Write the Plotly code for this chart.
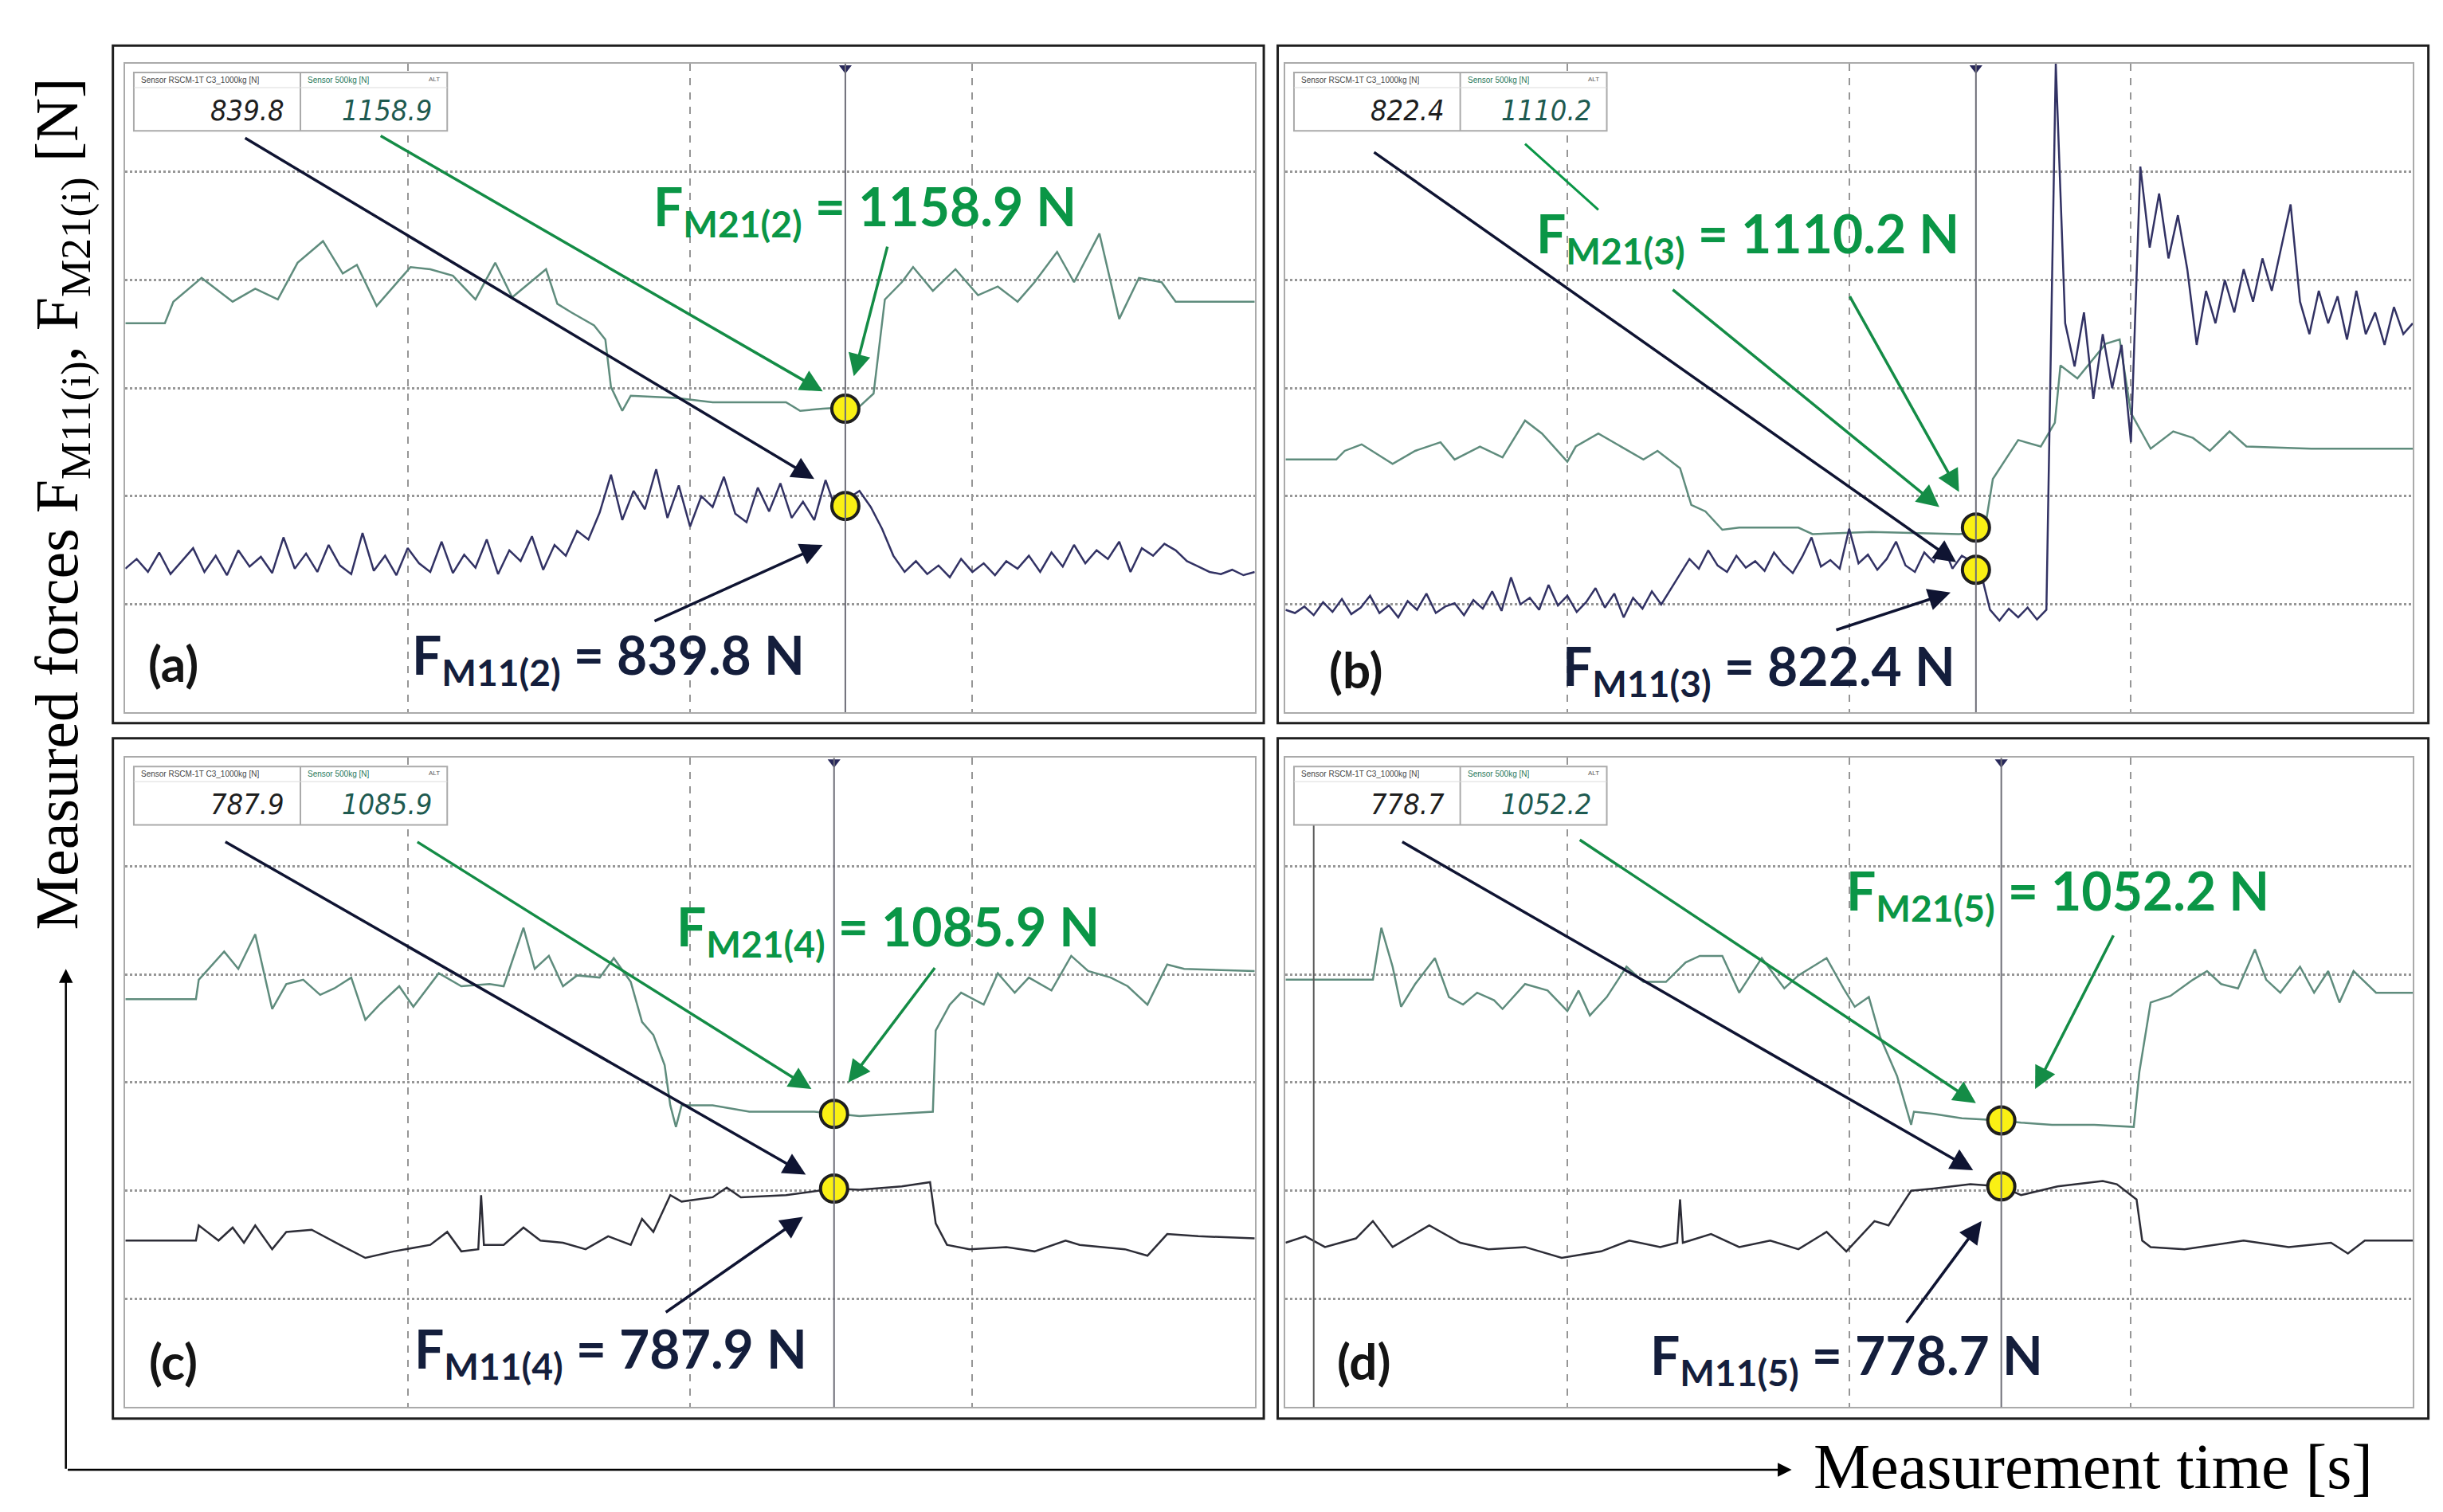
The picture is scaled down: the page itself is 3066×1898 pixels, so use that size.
import numpy as np
import plotly.graph_objects as go
from plotly.subplots import make_subplots

# values are in scope grid divisions (x: 0-4, y: 0-6)
GREEN_A_T = [0, 0.14, 0.17, 0.27, 0.38, 0.46, 0.54, 0.61, 0.70, 0.77, 0.82, 0.89, 1.01, 1.08, 1.16, 1.24, 1.31, 1.37, 1.49, 1.53, 1.58, 1.66, 1.70, 1.72, 1.76, 1.79, 1.95, 2.08, 2.34, 2.39, 2.47, 2.60, 2.65, 2.69, 2.75, 2.79, 2.86, 2.94, 3.02, 3.09, 3.16, 3.22, 3.30, 3.36, 3.45, 3.52, 3.59, 3.67, 3.72, 4.0]
GREEN_A_V = [3.60, 3.60, 3.80, 4.02, 3.80, 3.92, 3.82, 4.16, 4.36, 4.06, 4.14, 3.76, 4.12, 4.10, 4.04, 3.82, 4.16, 3.84, 4.10, 3.78, 3.70, 3.58, 3.45, 3.01, 2.79, 2.93, 2.91, 2.87, 2.87, 2.79, 2.81, 2.83, 2.95, 3.82, 3.98, 4.12, 3.90, 4.10, 3.86, 3.94, 3.80, 3.98, 4.26, 3.98, 4.43, 3.64, 4.02, 3.98, 3.80, 3.80]
NAVY_A_V = [1.33, 1.42, 1.30, 1.48, 1.28, 1.40, 1.52, 1.30, 1.45, 1.27, 1.50, 1.35, 1.44, 1.29, 1.62, 1.33, 1.47, 1.30, 1.55, 1.36, 1.28, 1.66, 1.31, 1.45, 1.27, 1.52, 1.38, 1.30, 1.58, 1.29, 1.46, 1.34, 1.60, 1.28, 1.50, 1.40, 1.63, 1.32, 1.55, 1.45, 1.68, 1.60,
            1.85, 2.20, 1.78, 2.05, 1.88, 2.25, 1.80, 2.10, 1.72, 2.00, 1.90, 2.18, 1.84, 1.76, 2.08, 1.86, 2.12, 1.80, 1.95, 1.78, 2.15, 1.85, 1.98, 2.05, 1.90,
            1.70, 1.45, 1.30, 1.40, 1.28, 1.36, 1.25, 1.42, 1.30, 1.38, 1.27, 1.40, 1.33, 1.45, 1.30, 1.48, 1.35, 1.55, 1.38, 1.50, 1.42, 1.58, 1.30, 1.52, 1.45, 1.56, 1.50, 1.40, 1.35, 1.30, 1.28, 1.32, 1.27, 1.30]

GREEN_B_T = [0, 0.18, 0.21, 0.27, 0.38, 0.46, 0.55, 0.60, 0.69, 0.77, 0.85, 0.91, 1.0, 1.03, 1.11, 1.19, 1.27, 1.32, 1.40, 1.44, 1.49, 1.55, 1.61, 1.82, 1.87, 2.08, 2.39, 2.48, 2.51, 2.60, 2.68, 2.73, 2.75, 2.81, 2.86, 2.91, 2.96, 3.0, 3.07, 3.15, 3.22, 3.28, 3.35, 3.41, 3.64, 4.0]
GREEN_B_V = [2.34, 2.34, 2.42, 2.48, 2.30, 2.42, 2.50, 2.34, 2.46, 2.36, 2.70, 2.58, 2.32, 2.46, 2.58, 2.46, 2.34, 2.42, 2.26, 1.92, 1.86, 1.69, 1.71, 1.71, 1.65, 1.67, 1.65, 1.67, 2.16, 2.52, 2.46, 2.68, 3.21, 3.09, 3.25, 3.41, 3.45, 2.77, 2.44, 2.60, 2.54, 2.42, 2.60, 2.46, 2.44, 2.44]
NAVY_B_V = [0.95, 0.92, 0.98, 0.90, 1.02, 0.93, 1.05, 0.91, 0.97, 1.08, 0.92, 0.99, 0.88, 1.03, 0.95, 1.10, 0.92, 0.98, 1.01, 0.90, 1.04, 0.96, 1.12, 0.94, 1.25, 1.00, 1.06, 0.95, 1.18, 0.99, 1.08, 0.93, 1.02, 1.15, 0.97, 1.10, 0.88, 1.06, 0.96, 1.12, 1.00, 1.14,
            1.28, 1.42, 1.33, 1.50, 1.36, 1.30, 1.45, 1.34, 1.40, 1.31, 1.48, 1.37, 1.29, 1.44, 1.62, 1.35, 1.41, 1.33, 1.70, 1.38, 1.46, 1.32, 1.42, 1.58, 1.36, 1.30, 1.48, 1.39, 1.55, 1.33, 1.45,
            1.40, 1.30, 0.95, 0.85, 0.96, 0.88, 0.97, 0.86, 0.95, 6.0, 3.6, 3.2, 3.7, 2.9, 3.5, 3.0, 3.4, 2.5, 5.05, 4.3, 4.8, 4.2, 4.6, 4.1, 3.4, 3.9, 3.6, 4.0, 3.7, 4.1, 3.8, 4.2, 3.9, 4.3, 4.7, 3.8, 3.5, 3.9, 3.6, 3.85, 3.45, 3.9, 3.5, 3.7, 3.4, 3.75, 3.5, 3.6]

GREEN_C_T = [0, 0.25, 0.26, 0.35, 0.40, 0.46, 0.52, 0.57, 0.63, 0.69, 0.74, 0.80, 0.85, 0.90, 0.97, 1.02, 1.11, 1.19, 1.29, 1.34, 1.41, 1.45, 1.50, 1.55, 1.60, 1.68, 1.73, 1.79, 1.83, 1.87, 1.91, 1.93, 1.95, 1.97, 2.08, 2.21, 2.44, 2.60, 2.86, 2.87, 2.92, 2.96, 3.04, 3.09, 3.15, 3.20, 3.28, 3.35, 3.41, 3.49, 3.55, 3.62, 3.69, 3.75, 4.0]
GREEN_C_V = [3.77, 3.77, 3.95, 4.21, 4.05, 4.37, 3.68, 3.91, 3.95, 3.81, 3.87, 3.97, 3.58, 3.72, 3.89, 3.70, 4.01, 3.89, 3.91, 3.89, 4.43, 4.05, 4.17, 3.89, 3.99, 3.97, 4.15, 3.93, 3.56, 3.44, 3.16, 2.79, 2.59, 2.79, 2.79, 2.73, 2.73, 2.69, 2.73, 3.48, 3.72, 3.83, 3.72, 4.01, 3.83, 3.97, 3.85, 4.17, 4.03, 3.97, 3.89, 3.72, 4.09, 4.05, 4.03]
NAVY_C_T = [0, 0.25, 0.26, 0.33, 0.38, 0.42, 0.46, 0.52, 0.57, 0.66, 0.76, 0.85, 0.95, 1.08, 1.14, 1.19, 1.25, 1.26, 1.27, 1.34, 1.41, 1.47, 1.55, 1.63, 1.71, 1.79, 1.83, 1.87, 1.93, 1.97, 2.08, 2.13, 2.18, 2.34, 2.51, 2.60, 2.75, 2.85, 2.87, 2.91, 2.99, 3.12, 3.22, 3.33, 3.38, 3.54, 3.62, 3.69, 3.80, 4.0]
NAVY_C_V = [1.54, 1.54, 1.68, 1.54, 1.66, 1.52, 1.68, 1.46, 1.62, 1.64, 1.50, 1.38, 1.44, 1.50, 1.62, 1.44, 1.46, 1.96, 1.50, 1.50, 1.66, 1.54, 1.52, 1.46, 1.58, 1.50, 1.74, 1.62, 1.96, 1.90, 1.94, 2.03, 1.94, 1.96, 2.02, 2.01, 2.04, 2.08, 1.70, 1.50, 1.46, 1.48, 1.44, 1.54, 1.50, 1.46, 1.40, 1.60, 1.58, 1.56]

GREEN_D_T = [0, 0.31, 0.34, 0.38, 0.41, 0.46, 0.53, 0.58, 0.63, 0.68, 0.74, 0.77, 0.85, 0.93, 1.0, 1.04, 1.08, 1.14, 1.21, 1.27, 1.35, 1.42, 1.47, 1.55, 1.61, 1.69, 1.77, 1.82, 1.92, 1.98, 2.02, 2.07, 2.11, 2.17, 2.22, 2.23, 2.30, 2.40, 2.54, 2.61, 2.72, 2.87, 3.01, 3.03, 3.07, 3.14, 3.22, 3.27, 3.32, 3.38, 3.44, 3.48, 3.53, 3.60, 3.65, 3.70, 3.74, 3.79, 3.87, 4.0]
GREEN_D_V = [3.95, 3.95, 4.43, 4.07, 3.70, 3.91, 4.15, 3.79, 3.72, 3.83, 3.76, 3.68, 3.91, 3.85, 3.66, 3.85, 3.62, 3.79, 4.07, 3.93, 3.93, 4.11, 4.17, 4.17, 3.83, 4.15, 3.87, 3.99, 4.15, 3.87, 3.70, 3.79, 3.42, 3.06, 2.61, 2.73, 2.71, 2.67, 2.65, 2.63, 2.61, 2.61, 2.59, 3.10, 3.74, 3.80, 3.95, 4.03, 3.91, 3.87, 4.23, 3.95, 3.83, 4.07, 3.83, 4.03, 3.74, 4.03, 3.83, 3.83]
NAVY_D_T = [0, 0.07, 0.14, 0.25, 0.31, 0.38, 0.51, 0.62, 0.72, 0.85, 0.98, 1.12, 1.22, 1.33, 1.39, 1.40, 1.41, 1.51, 1.61, 1.72, 1.82, 1.92, 1.99, 2.09, 2.14, 2.22, 2.30, 2.43, 2.54, 2.61, 2.74, 2.90, 2.95, 3.02, 3.04, 3.07, 3.19, 3.29, 3.40, 3.56, 3.71, 3.77, 3.83, 4.0]
NAVY_D_V = [1.52, 1.58, 1.48, 1.56, 1.72, 1.48, 1.68, 1.52, 1.46, 1.48, 1.38, 1.44, 1.54, 1.48, 1.52, 1.92, 1.52, 1.60, 1.48, 1.54, 1.46, 1.62, 1.44, 1.72, 1.68, 2.00, 2.02, 2.06, 2.04, 1.96, 2.04, 2.09, 2.06, 1.92, 1.54, 1.48, 1.46, 1.50, 1.54, 1.48, 1.52, 1.42, 1.54, 1.54]

PANEL_LABELS = ["(a)", "(b)", "(c)", "(d)"]
CURSOR_T = [2.55, 2.45, 2.51, 2.54]
POINT_GREEN = [2.81, 1.71, 2.71, 2.65]
POINT_NAVY = [1.91, 1.32, 2.02, 2.04]
READ_M11 = ["839.8", "822.4", "787.9", "778.7"]
READ_M21 = ["1158.9", "1110.2", "1085.9", "1052.2"]
F_M11 = ["839.8", "822.4", "787.9", "778.7"]
F_M21 = ["1158.9", "1110.2", "1085.9", "1052.2"]
IDX = ["2", "3", "4", "5"]

GREEN_TRACE = "rgb(95,140,125)"
NAVY_A = "rgb(50,50,100)"
DARK_TRACE = "rgb(45,45,55)"
GREEN_TXT = "rgb(10,150,70)"
NAVY_TXT = "rgb(20,30,60)"
GRID = "rgb(150,150,150)"

fig = make_subplots(rows=2, cols=2)

# plot areas and outer frames in paper fractions
DOMAINS = [
    ([0.0487, 0.511], [0.533, 0.962]),
    ([0.5236, 0.985], [0.533, 0.962]),
    ([0.0487, 0.511], [0.0735, 0.503]),
    ([0.5236, 0.985], [0.0735, 0.503]),
]
FRAMES = [
    (0.0436, 0.5147, 0.526, 0.974),
    (0.5204, 0.9914, 0.526, 0.974),
    (0.0436, 0.5147, 0.066, 0.516),
    (0.5204, 0.9914, 0.066, 0.516),
]

series = [
    (GREEN_A_T, GREEN_A_V, list(np.linspace(0, 4, len(NAVY_A_V))), NAVY_A_V, NAVY_A),
    (GREEN_B_T, GREEN_B_V, list(np.linspace(0, 4, len(NAVY_B_V))), NAVY_B_V, NAVY_A),
    (GREEN_C_T, GREEN_C_V, NAVY_C_T, NAVY_C_V, DARK_TRACE),
    (GREEN_D_T, GREEN_D_V, NAVY_D_T, NAVY_D_V, DARK_TRACE),
]

# arrows: (from, to) in grid units
BLACK_ARROWS = [((0.42, 5.32), (2.44, 2.16)), ((0.31, 5.19), (2.38, 1.39)),
                ((0.35, 5.23), (2.41, 2.15)), ((0.41, 5.23), (2.44, 2.19))]
GREEN_ARROWS = [
    [((0.90, 5.34), (2.47, 2.97)), ((2.70, 4.32), (2.58, 3.11))],
    [((1.37, 3.92), (2.32, 1.90)), ((2.0, 3.86), (2.39, 2.04))],
    [((1.03, 5.23), (2.43, 2.94)), ((2.87, 4.07), (2.56, 3.0))],
    [((1.04, 5.25), (2.45, 2.81)), ((2.94, 4.37), (2.66, 2.94))],
]
NAVY_ARROWS = [((1.87, 0.84), (2.47, 1.55)), ((1.95, 0.76), (2.36, 1.11)),
               ((1.91, 0.87), (2.40, 1.76)), ((2.20, 0.77), (2.47, 1.72))]
GREEN_TXT_POS = [(2.62, 4.65), (1.64, 4.40), (2.70, 4.41), (2.74, 4.74)]
NAVY_TXT_POS = [(1.71, 0.50), (1.68, 0.40), (1.72, 0.51), (1.99, 0.45)]
LABEL_POS = [(0.17, 0.46), (0.25, 0.40), (0.17, 0.43), (0.28, 0.43)]

shapes = []
for i in range(4):
    r, c = i // 2 + 1, i % 2 + 1
    xa = "x" if i == 0 else f"x{i + 1}"
    ya = "y" if i == 0 else f"y{i + 1}"
    gt, gv, nt, nv, ncol = series[i]
    fig.add_trace(go.Scatter(x=gt, y=gv, mode="lines", line=dict(color=GREEN_TRACE, width=2.5)), row=r, col=c)
    fig.add_trace(go.Scatter(x=nt, y=nv, mode="lines", line=dict(color=ncol, width=2.5)), row=r, col=c)
    # cursor
    shapes.append(dict(type="line", xref=xa, yref=ya, x0=CURSOR_T[i], x1=CURSOR_T[i], y0=0, y1=6,
                       line=dict(color="rgb(110,110,120)", width=2)))
    fig.add_trace(go.Scatter(x=[CURSOR_T[i]], y=[5.96], mode="markers",
                             marker=dict(symbol="triangle-down", size=14, color="rgb(40,40,90)")), row=r, col=c)
    fig.add_trace(go.Scatter(x=[CURSOR_T[i], CURSOR_T[i]], y=[POINT_GREEN[i], POINT_NAVY[i]], mode="markers",
                             marker=dict(size=34, color="rgb(250,240,20)", line=dict(color="rgb(30,30,30)", width=4))),
                  row=r, col=c)
    if i == 3:
        shapes.append(dict(type="line", xref=xa, yref=ya, x0=0.1, x1=0.1, y0=0, y1=5.38,
                           line=dict(color="rgb(90,90,90)", width=2)))
    if i == 1:
        shapes.append(dict(type="line", xref=xa, yref=ya, x0=0.85, x1=1.11, y0=5.26, y1=4.65,
                           line=dict(color=GREEN_TXT, width=3)))

    # readout box
    shapes.append(dict(type="rect", xref=xa, yref=ya, x0=0.03, x1=1.14, y0=5.38, y1=5.92,
                       line=dict(color="rgb(170,170,170)", width=2), fillcolor="white"))
    shapes.append(dict(type="line", xref=xa, yref=ya, x0=0.62, x1=0.62, y0=5.38, y1=5.92,
                       line=dict(color="rgb(170,170,170)", width=2)))
    shapes.append(dict(type="line", xref=xa, yref=ya, x0=0.03, x1=1.14, y0=5.78, y1=5.78,
                       line=dict(color="rgb(220,220,220)", width=1)))
    fig.add_annotation(x=0.05, y=5.85, xref=xa, yref=ya, text="Sensor RSCM-1T C3_1000kg [N]", showarrow=False,
                       xanchor="left", font=dict(size=10, color="rgb(70,70,70)", family="Liberation Sans"))
    fig.add_annotation(x=0.64, y=5.85, xref=xa, yref=ya, text="Sensor 500kg [N]", showarrow=False,
                       xanchor="left", font=dict(size=10, color="rgb(40,120,90)", family="Liberation Sans"))
    fig.add_annotation(x=1.12, y=5.86, xref=xa, yref=ya, text="ALT", showarrow=False,
                       xanchor="right", font=dict(size=8, color="rgb(90,90,90)", family="Liberation Sans"))
    fig.add_annotation(x=0.57, y=5.57, xref=xa, yref=ya, text=f"<i>{READ_M11[i]}</i>", showarrow=False,
                       xanchor="right", font=dict(size=36, color="rgb(30,30,30)", family="DejaVu Sans Condensed"))
    fig.add_annotation(x=1.09, y=5.57, xref=xa, yref=ya, text=f"<i>{READ_M21[i]}</i>", showarrow=False,
                       xanchor="right", font=dict(size=36, color="rgb(30,90,80)", family="DejaVu Sans Condensed"))

    # arrows
    (x0, y0), (x1, y1) = BLACK_ARROWS[i]
    fig.add_annotation(x=x1, y=y1, ax=x0, ay=y0, xref=xa, yref=ya, axref=xa, ayref=ya, text="",
                       showarrow=True, arrowhead=2, arrowsize=1.6, arrowwidth=3.5, arrowcolor="rgb(15,20,50)")
    for (x0, y0), (x1, y1) in GREEN_ARROWS[i]:
        fig.add_annotation(x=x1, y=y1, ax=x0, ay=y0, xref=xa, yref=ya, axref=xa, ayref=ya, text="",
                           showarrow=True, arrowhead=2, arrowsize=1.6, arrowwidth=3.5, arrowcolor="rgb(20,140,70)")
    (x0, y0), (x1, y1) = NAVY_ARROWS[i]
    fig.add_annotation(x=x1, y=y1, ax=x0, ay=y0, xref=xa, yref=ya, axref=xa, ayref=ya, text="",
                       showarrow=True, arrowhead=2, arrowsize=1.6, arrowwidth=3.5, arrowcolor="rgb(15,20,50)")

    # labels
    gx, gy = GREEN_TXT_POS[i]
    fig.add_annotation(x=gx, y=gy, xref=xa, yref=ya, showarrow=False,
                       text=f"<b>F<sub>M21({IDX[i]})</sub> = {F_M21[i]} N</b>",
                       font=dict(size=66, color=GREEN_TXT, family="Lato"))
    nx, ny = NAVY_TXT_POS[i]
    fig.add_annotation(x=nx, y=ny, xref=xa, yref=ya, showarrow=False,
                       text=f"<b>F<sub>M11({IDX[i]})</sub> = {F_M11[i]} N</b>",
                       font=dict(size=66, color=NAVY_TXT, family="Lato"))
    lx, ly = LABEL_POS[i]
    fig.add_annotation(x=lx, y=ly, xref=xa, yref=ya, showarrow=False, text=f"<b>{PANEL_LABELS[i]}</b>",
                       font=dict(size=62, color="rgb(20,20,20)", family="Lato"))

    fig.update_xaxes(row=r, col=c, range=[0, 4], domain=DOMAINS[i][0], tickvals=[1, 2, 3], showticklabels=False,
                     ticks="", showgrid=True, gridcolor=GRID, griddash="dash", gridwidth=2, zeroline=False,
                     showline=True, linecolor="rgb(170,170,170)", linewidth=2, mirror=True)
    fig.update_yaxes(row=r, col=c, range=[0, 6], domain=DOMAINS[i][1], tickvals=[1, 2, 3, 4, 5],
                     showticklabels=False, ticks="", showgrid=True, gridcolor=GRID, griddash="dot", gridwidth=3,
                     zeroline=False, showline=True, linecolor="rgb(170,170,170)", linewidth=2, mirror=True)

    fx0, fx1, fy0, fy1 = FRAMES[i]
    shapes.append(dict(type="rect", xref="paper", yref="paper", x0=fx0, x1=fx1, y0=fy0, y1=fy1,
                       line=dict(color="rgb(30,30,30)", width=3)))

# figure axes arrows
fig.add_annotation(x=38 / 1560, y=1 - 615 / 966, xref="paper", yref="paper", ax=0, ay=629, text="",
                   showarrow=True, arrowhead=2, arrowsize=1.4, arrowwidth=2.5, arrowcolor="black")
fig.add_annotation(x=1140 / 1560, y=1 - 935 / 966, xref="paper", yref="paper", ax=-2165, ay=0, text="",
                   showarrow=True, arrowhead=2, arrowsize=1.4, arrowwidth=2.5, arrowcolor="black")
fig.add_annotation(x=1153 / 1560, y=1 - 933 / 966, xref="paper", yref="paper", xanchor="left",
                   yanchor="middle", showarrow=False,
                   text="Measurement time [s]", font=dict(size=80, color="black", family="Liberation Serif"))
fig.add_annotation(x=35 / 1560, y=1 - 318 / 966, xref="paper", yref="paper", textangle=-90, showarrow=False,
                   xanchor="center", yanchor="middle",
                   text="Measured forces F<sub>M11(i)</sub>, F<sub>M21(i)</sub> [N]",
                   font=dict(size=76, color="black", family="Liberation Serif"))

fig.update_layout(width=3066, height=1898, margin=dict(l=0, r=0, t=0, b=0), showlegend=False,
                  plot_bgcolor="white", paper_bgcolor="white", shapes=shapes)

fig.write_html("out.html")
